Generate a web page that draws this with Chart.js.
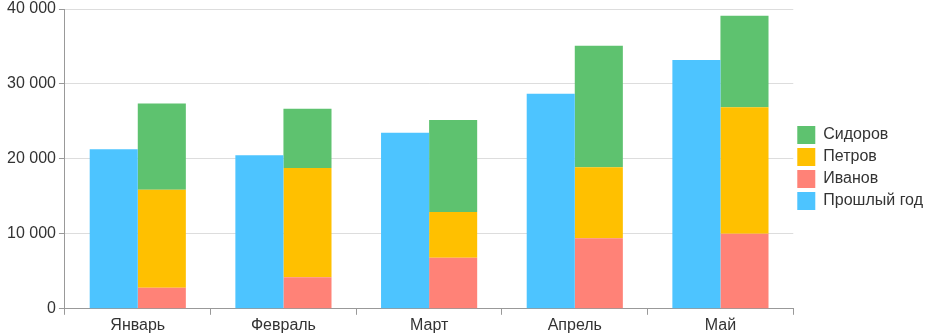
<!DOCTYPE html>
<html lang="ru">
<head>
<meta charset="utf-8">
<title>Продажи по месяцам</title>
<script src="https://cdn.jsdelivr.net/npm/chart.js@4"></script>
<style>
  html, body { margin: 0; padding: 0; background: #fff; }
  #wrap { width: 937px; height: 336px; }
</style>
</head>
<body>
<div id="wrap"><canvas id="sales"></canvas></div>
<script>
const months = ["Январь", "Февраль", "Март", "Апрель", "Май"];
const lastYear = [21300, 20500, 23500, 28700, 33200];
const ivanov = [2800, 4200, 6800, 9400, 10000];
const petrov = [13100, 14600, 6100, 9500, 16900];
const sidorov = [11500, 7900, 12300, 16200, 12200];

const FONT = { family: "'Liberation Sans', Arial, sans-serif", size: 16 };
const TEXT = "#333";
const AXIS = "#999";

// "40 000" — пробел как разделитель тысяч
const fmt = (v) => String(v).replace(/\B(?=(\d{3})+(?!\d))/g, " ");

const bar = (label, data, color, stack) => ({
  label, data, stack, backgroundColor: color, borderWidth: 0,
  categoryPercentage: 0.66, barPercentage: 1,
});

new Chart(document.getElementById("sales"), {
  type: "bar",
  data: {
    labels: months,
    datasets: [
      bar("Прошлый год", lastYear, "#4DC4FF", "prev"),
      bar("Иванов", ivanov, "#FF8277", "cur"),
      bar("Петров", petrov, "#FFC000", "cur"),
      bar("Сидоров", sidorov, "#5EC26F", "cur"),
    ],
  },
  options: {
    responsive: true,
    maintainAspectRatio: false,
    animation: false,
    layout: { padding: { left: 4, right: 4, top: 0, bottom: 0 } },
    plugins: {
      tooltip: { enabled: false },
      legend: {
        position: "right",
        reverse: true,
        labels: {
          font: FONT, color: TEXT,
          boxWidth: 18, boxHeight: 18, padding: 4,
        },
      },
    },
    scales: {
      x: {
        stacked: true,
        border: { color: AXIS },
        grid: { drawOnChartArea: false, tickLength: 6, color: AXIS },
        ticks: { font: FONT, color: TEXT, padding: 1 },
      },
      y: {
        stacked: true,
        min: 0, max: 40000,
        border: { color: AXIS },
        grid: { color: "#DDDDDD", tickLength: 6, tickColor: AXIS },
        ticks: { stepSize: 10000, font: { ...FONT, lineHeight: 0.75 }, color: TEXT, padding: 3, callback: fmt },
      },
    },
  },
});
</script>
</body>
</html>
